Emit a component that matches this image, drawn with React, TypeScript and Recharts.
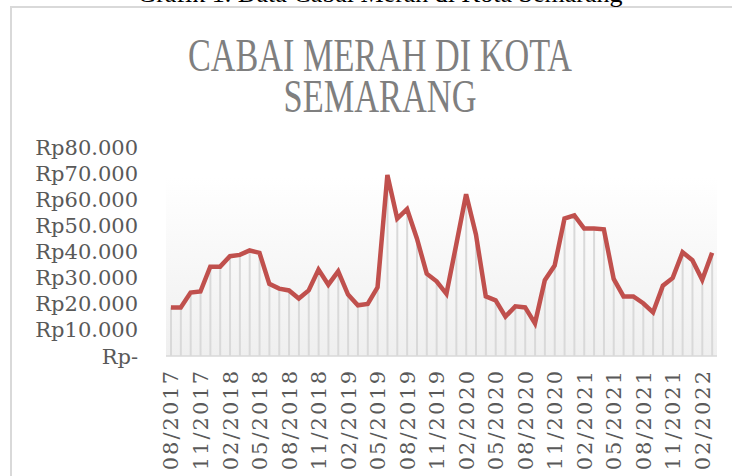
import { ComposedChart, Line, Bar, XAxis, YAxis, ReferenceArea } from "recharts";

const months = [
  "08/2017", "09/2017", "10/2017", "11/2017", "12/2017",
  "01/2018", "02/2018", "03/2018", "04/2018", "05/2018", "06/2018", "07/2018",
  "08/2018", "09/2018", "10/2018", "11/2018", "12/2018",
  "01/2019", "02/2019", "03/2019", "04/2019", "05/2019", "06/2019", "07/2019",
  "08/2019", "09/2019", "10/2019", "11/2019", "12/2019",
  "01/2020", "02/2020", "03/2020", "04/2020", "05/2020", "06/2020", "07/2020",
  "08/2020", "09/2020", "10/2020", "11/2020", "12/2020",
  "01/2021", "02/2021", "03/2021", "04/2021", "05/2021", "06/2021", "07/2021",
  "08/2021", "09/2021", "10/2021", "11/2021", "12/2021",
  "01/2022", "02/2022", "03/2022",
];

const prices = [
  18600, 18600, 24300, 24700, 34200,
  34200, 38200, 38700, 40400, 39500, 27600, 25800,
  25100, 22000, 25100, 33100, 27300,
  32400, 23500, 19400, 19900, 26300, 69300, 52600,
  56200, 45000, 31500, 28600, 23800,
  42700, 61900, 46500, 22800, 21300, 15100, 19000,
  18600, 12500, 29000, 34600, 52600,
  53800, 48800, 48800, 48500, 29500, 22800, 22800,
  20200, 16700, 26900, 29900, 39700,
  36700, 29200, 39500,
];

const yTicks = [0, 10000, 20000, 30000, 40000, 50000, 60000, 70000, 80000];

const data = months.map((m, i) => ({ month: m, price: prices[i] }));

const axisFont = "'DejaVu Serif', serif";
const titleFont = "'Liberation Serif', serif";

function fmtRp(v: number) {
  if (v === 0) return "Rp-";
  return "Rp" + (v / 1000).toFixed(0) + ".000";
}

function YTick(props: any) {
  const { x, y, payload } = props;
  return (
    <text x={x - 20} y={y} dy="0.36em" textAnchor="end" fontFamily={axisFont} fontSize={21} fill="#595959">
      {fmtRp(payload.value)}
    </text>
  );
}

function XTick(props: any) {
  const { x, y, payload } = props;
  return (
    <g transform={`translate(${x},${y})`}>
      <text x={-5} y={0} dy="0.36em" transform="rotate(-90)" textAnchor="end" fontFamily={axisFont} fontSize={21} letterSpacing={2} fill="#595959">
        {payload.value}
      </text>
    </g>
  );
}

export default function App() {
  return (
    <div style={{ position: "absolute", left: 0, top: 0, width: 732, height: 476, overflow: "hidden", background: "#fff" }}>
      <div style={{ position: "absolute", left: 10, top: 6, width: 800, height: 600, border: "2px solid #d9d9d9" }} />
      <svg width={732} height={130} style={{ position: "absolute", left: 0, top: 0 }}>
        <text x={380} y={2} textAnchor="middle" fontFamily={titleFont} fontSize={26} fill="#000">
          Grafik 1. Data Cabai Merah di Kota Semarang
        </text>
        <text textAnchor="middle" fontFamily={titleFont} fontSize={47} fill="#7f7f7f">
          <tspan x={380} y={71} textLength={384} lengthAdjust="spacingAndGlyphs">CABAI MERAH DI KOTA</tspan>
          <tspan x={380} y={112} textLength={193} lengthAdjust="spacingAndGlyphs">SEMARANG</tspan>
        </text>
      </svg>
      <div style={{ position: "absolute", left: 0, top: 0 }}>
        <ComposedChart width={732} height={476} data={data} margin={{ top: 147, right: 15, bottom: 0, left: 0 }}>
          <defs>
            <linearGradient id="plotBg" x1="0" y1="0" x2="0" y2="1">
              <stop offset="0%" stopColor="#ffffff" />
              <stop offset="100%" stopColor="#efefef" />
            </linearGradient>
          </defs>
          <ReferenceArea y1={0} y2={68500} fill="url(#plotBg)" fillOpacity={1} stroke="none" />
          <XAxis
            dataKey="month"
            interval={2}
            height={120}
            tickLine={false}
            axisLine={{ stroke: "#d9d9d9", strokeWidth: 1.5 }}
            tick={<XTick />}
          />
          <YAxis
            domain={[0, 80000]}
            ticks={yTicks}
            width={166}
            axisLine={false}
            tickLine={false}
            tick={<YTick />}
          />
          <Bar dataKey="price" barSize={2} fill="#d9d9d9" isAnimationActive={false} />
          <Line
            type="linear"
            dataKey="price"
            stroke="#c0504d"
            strokeWidth={4.5}
            dot={false}
            isAnimationActive={false}
          />
        </ComposedChart>
      </div>
    </div>
  );
}
